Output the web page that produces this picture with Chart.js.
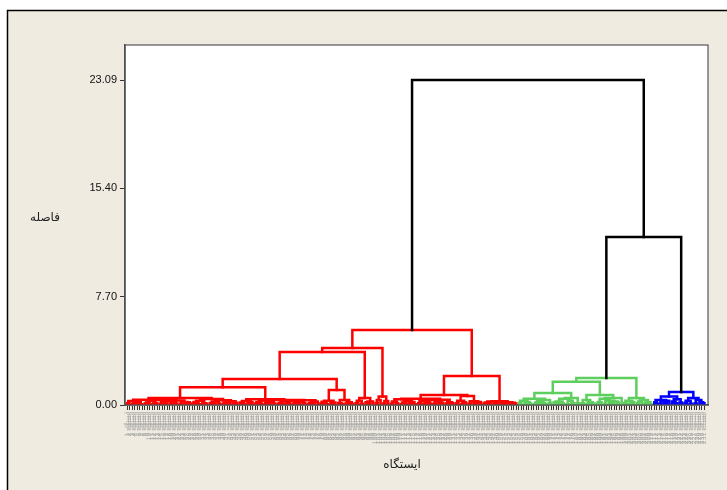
<!DOCTYPE html>
<html>
<head>
<meta charset="utf-8">
<script src="https://cdn.jsdelivr.net/npm/chart.js@4.4.1/dist/chart.umd.min.js"></script>
<style>
    html, body { margin: 0; padding: 0; background: #fff; }
</style>
</head>
<body>
<canvas id="myChart" width="727" height="490"></canvas>
<script>
// Merge height between each pair of neighbouring stations (dendrogram leaf order, left to right)
const mergeHeights = [
    0.12, 0.28, 0.08, 0.15, 0.22, 0.05, 0.38, 0.1, 0.18, 0.3,
    0.07, 0.14, 0.35, 0.09, 0.2, 0.11, 0.26, 0.06, 0.17, 0.1,
    0.32, 0.08, 0.21, 0.13, 0.19,
    0.5,
    0.1, 0.22, 0.06, 0.3, 0.13, 0.08, 0.42, 0.15, 0.05, 0.25, 0.11, 0.33, 0.07, 0.18, 0.12, 0.27, 0.09, 0.16,
    1.26,
    0.17, 0.06, 0.28, 0.12, 0.2,
    0.40,
    0.1, 0.2, 0.07, 0.32, 0.14, 0.05, 0.22, 0.11, 0.35, 0.08,
    0.16, 0.27, 0.06, 0.12, 0.3, 0.09, 0.19, 0.05, 0.25, 0.13,
    0.34, 0.07, 0.15, 0.21, 0.24,
    1.84,
    0.1, 0.23, 0.06, 0.3, 0.12, 0.18,
    1.07,
    0.15, 0.07, 0.36, 0.11, 0.2, 0.09,
    3.77,
    0.12, 0.3, 0.08, 0.5, 0.2, 0.06, 0.25,
    4.05,
    0.15, 0.35, 0.6, 0.1, 0.28,
    5.33,
    0.08, 0.25, 0.12, 0.4, 0.06, 0.18, 0.3, 0.1, 0.22, 0.05,
    0.45, 0.14, 0.28, 0.07, 0.19, 0.11, 0.35, 0.09, 0.24, 0.06,
    0.16, 0.38, 0.1, 0.2, 0.13,
    0.71,
    0.12, 0.3, 0.07, 0.2, 0.64, 0.1, 0.26, 0.15, 0.06, 0.22,
    2.06,
    0.1, 0.18, 0.06, 0.25, 0.12, 0.08, 0.27, 0.14, 0.05, 0.2, 0.09, 0.16, 0.11,
    23.09,
    0.15, 0.3, 0.08, 0.22, 0.1, 0.45, 0.06, 0.18, 0.28, 0.12, 0.07, 0.35, 0.14,
    0.85,
    0.2, 0.09, 0.25, 0.1, 0.45, 0.06, 0.3, 0.15, 0.5, 0.12,
    1.65,
    0.12, 0.35, 0.07, 0.2, 0.1,
    0.71,
    0.1, 0.22, 0.45, 0.08, 0.3, 0.14, 0.06, 0.25, 0.18, 0.5,
    1.92,
    0.15, 0.3, 0.08, 0.22, 0.5, 0.12, 0.25, 0.35, 0.1, 0.2, 0.06,
    11.94,
    0.2, 0.35, 0.1, 0.28, 0.15, 0.3,
    0.6,
    0.25, 0.12, 0.4, 0.18,
    0.92,
    0.15, 0.3, 0.08, 0.5, 0.1, 0.35, 0.2, 0.12
];

const yTicks = [0, 7.70, 15.40, 23.09];
const yMax = 25.58;
const clusterColors = ["#ff0000", "#5ecf5e", "#0000ff"];
const linkColor = "#000000";
const colorCut = 8;
const stationLabels = Array.from({ length: mergeHeights.length + 1 }, (_, i) => "ایستگاه " + (i + 1));

// Rebuild the tree: the highest gap in a range is the node joining its two halves
function buildTree(lo, hi) {
    if (lo === hi) return { x: lo, h: 0 };
    let k = lo;
    for (let i = lo; i < hi; i++) {
        if (mergeHeights[i] > mergeHeights[k]) k = i;
    }
    const left = buildTree(lo, k);
    const right = buildTree(k + 1, hi);
    return { x: (left.x + right.x) / 2, h: mergeHeights[k], left, right };
}

const links = [];
let nextCluster = 0;
function collect(node, parentColor) {
    if (!node.left) return;
    let color = parentColor;
    if (node.h >= colorCut) color = linkColor;
    else if (parentColor === linkColor) color = clusterColors[nextCluster++ % clusterColors.length];
    links.push({
        color,
        pts: [
            { x: node.left.x, y: node.left.h },
            { x: node.left.x, y: node.h },
            { x: node.right.x, y: node.h },
            { x: node.right.x, y: node.right.h }
        ]
    });
    collect(node.left, color);
    collect(node.right, color);
}
collect(buildTree(0, mergeHeights.length), linkColor);

const framePlugin = {
    id: "frame",
    beforeDraw(chart) {
        const ctx = chart.ctx, a = chart.chartArea;
        ctx.save();
        ctx.fillStyle = "#fff";
        ctx.fillRect(0, 0, chart.width, chart.height);
        ctx.fillStyle = "#efebe1";
        ctx.fillRect(7, 10, chart.width, chart.height);
        ctx.strokeStyle = "#000";
        ctx.lineWidth = 1.5;
        ctx.beginPath();
        ctx.moveTo(7.5, chart.height);
        ctx.lineTo(7.5, 10.5);
        ctx.lineTo(chart.width, 10.5);
        ctx.stroke();
        ctx.fillStyle = "#fff";
        ctx.fillRect(a.left, a.top, a.right - a.left, a.bottom - a.top);
        ctx.restore();
    },
    afterDraw(chart) {
        const ctx = chart.ctx, a = chart.chartArea;
        ctx.save();
        ctx.strokeStyle = "#555";
        ctx.lineWidth = 1.2;
        ctx.strokeRect(a.left, a.top, a.right - a.left, a.bottom - a.top);
        ctx.fillStyle = "#222";
        ctx.font = "12px 'DejaVu Sans'";
        ctx.textAlign = "center";
        ctx.textBaseline = "middle";
        ctx.fillText("فاصله", 45, 218);
        ctx.fillText("ایستگاه", 402, 465);
        ctx.restore();
    }
};

const ctx = document.getElementById("myChart").getContext("2d");
new Chart(ctx, {
    type: "scatter",
    data: {
        datasets: links.map(l => ({
            data: l.pts,
            showLine: true,
            borderColor: l.color,
            borderWidth: 2.5,
            pointRadius: 0,
            borderJoinStyle: "miter",
            borderCapStyle: "square"
        }))
    },
    options: {
        responsive: false,
        animation: false,
        layout: { padding: { top: 45, right: 19, left: 0, bottom: 0 } },
        plugins: { legend: { display: false }, tooltip: { enabled: false } },
        scales: {
            x: {
                type: "linear",
                min: -0.8,
                max: mergeHeights.length + 1.4,
                afterBuildTicks: scale => {
                    scale.ticks = stationLabels.map((_, i) => ({ value: i }));
                },
                afterFit: scale => { scale.height = 85; },
                ticks: {
                    autoSkip: false,
                    minRotation: 90,
                    maxRotation: 90,
                    padding: 2,
                    color: "#a3a3a3",
                    font: { size: 6, family: "DejaVu Sans" },
                    callback: value => stationLabels[value]
                },
                grid: { drawOnChartArea: false, drawTicks: true, tickLength: 5, color: "#333", lineWidth: 1 },
                border: { display: true, color: "#444", width: 1.5 }
            },
            y: {
                min: 0,
                max: yMax,
                afterBuildTicks: scale => {
                    scale.ticks = yTicks.map(v => ({ value: v }));
                },
                afterFit: scale => { scale.width = 125; },
                ticks: {
                    padding: 3,
                    color: "#111",
                    font: { size: 11, family: "Liberation Sans" },
                    callback: value => Number(value).toFixed(2)
                },
                grid: { drawOnChartArea: false, drawTicks: true, tickLength: 5, color: "#333", lineWidth: 1 },
                border: { display: true, color: "#444", width: 1.5 }
            }
        }
    },
    plugins: [framePlugin]
});
</script>
</body>
</html>
